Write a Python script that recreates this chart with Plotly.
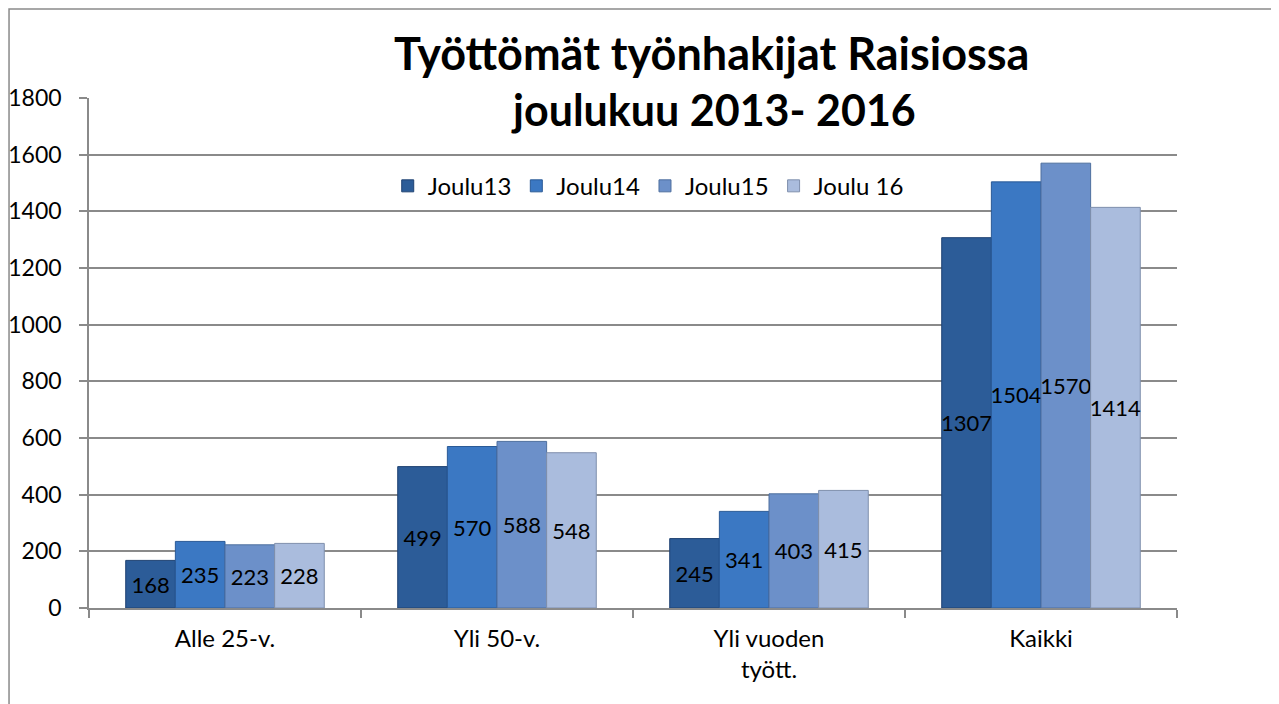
import plotly.graph_objects as go

# Data
categories = ["Alle 25-v.", "Yli 50-v.", "Yli vuoden<br>tyött.", "Kaikki"]
series_names = ["Joulu13", "Joulu14", "Joulu15", "Joulu 16"]
joulu13 = [168, 499, 245, 1307]
joulu14 = [235, 570, 341, 1504]
joulu15 = [223, 588, 403, 1570]
joulu16 = [228, 548, 415, 1414]
y_ticks = [0, 200, 400, 600, 800, 1000, 1200, 1400, 1600, 1800]
title_lines = ["Työttömät työnhakijat Raisiossa", "joulukuu 2013- 2016"]

colors = ["#2c5c98", "#3b78c3", "#6c90c9", "#aabcdd"]
edges = ["#1f4272", "#2a5a96", "#4e6f9e", "#7f8fac"]

FONT = "Lato"
GRID = "#8a8a8a"

fig = go.Figure()
for name, vals, col, edge in zip(series_names, [joulu13, joulu14, joulu15, joulu16], colors, edges):
    fig.add_trace(go.Bar(
        name=name,
        x=categories,
        y=vals,
        marker=dict(color=col, line=dict(color=edge, width=1)),
        text=[str(v) for v in vals],
        textposition="inside",
        insidetextanchor="middle",
        textangle=0,
        constraintext="none",
        textfont=dict(family=FONT, size=22, color="black"),
        cliponaxis=False,
    ))

# outer chart frame (only top and left edges fall inside the picture)
fig.add_shape(type="rect", xref="paper", yref="paper",
              x0=-0.0735, x1=1.3, y0=-0.4, y1=1.1745,
              line=dict(color=GRID, width=1.5), fillcolor="rgba(0,0,0,0)",
              layer="below")

# two-line title
fig.add_annotation(text="<b>" + title_lines[0] + "</b>", xref="paper", yref="paper",
                   x=0.5726, y=1.088, xanchor="center", yanchor="middle",
                   showarrow=False, font=dict(family=FONT, size=45, color="black"))
fig.add_annotation(text="<b>" + title_lines[1] + "</b>", xref="paper", yref="paper",
                   x=0.5744, y=0.978, xanchor="center", yanchor="middle",
                   showarrow=False, font=dict(family=FONT, size=43, color="black"))

# page body has an 8px margin, so the figure is offset by 8px
fig.update_layout(
    width=1271, height=696,
    paper_bgcolor="white", plot_bgcolor="white",
    margin=dict(l=81, r=102, t=90, b=96),
    barmode="group",
    bargap=0.27,
    bargroupgap=0,
    font=dict(family=FONT, size=24, color="black"),
    showlegend=True,
    legend=dict(
        orientation="h",
        x=0.514, xanchor="center",
        y=0.827, yanchor="middle",
        font=dict(family=FONT, size=24),
        bgcolor="rgba(0,0,0,0)",
        traceorder="normal",
    ),
    xaxis=dict(
        automargin=False,
        showline=True, linecolor=GRID, linewidth=1.5,
        ticks="outside", ticklen=8, tickcolor=GRID, tickwidth=1.5,
        tickson="boundaries",
        ticklabelstandoff=8,
        showgrid=False,
        tickfont=dict(family=FONT, size=24, color="black"),
    ),
    yaxis=dict(
        automargin=False,
        range=[0, 1800],
        tickvals=y_ticks,
        showline=True, linecolor=GRID, linewidth=1.5,
        ticks="outside", ticklen=8, tickcolor=GRID, tickwidth=1.5,
        ticklabelstandoff=13,
        showgrid=True, gridcolor=GRID, gridwidth=1.5,
        zeroline=False,
        tickfont=dict(family=FONT, size=23, color="black"),
    ),
)

fig.write_html("out.html")
